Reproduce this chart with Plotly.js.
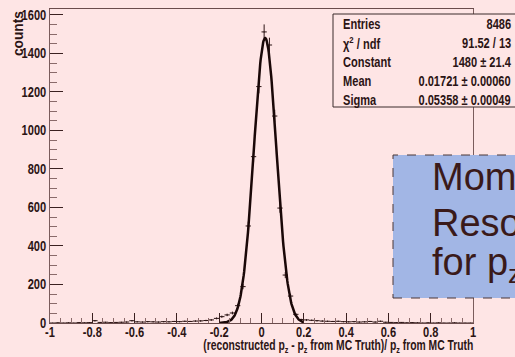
<!DOCTYPE html>
<html>
<head>
<meta charset="utf-8">
<script src="https://cdn.plot.ly/plotly-3.0.1.min.js"></script>
<style>html,body{margin:0;padding:0;background:#FEE5E5;}#chart{width:515px;height:357px;}</style>
</head>
<body>
<div id="chart"></div>
<script>
// ---- Data ----
// histogram bin centres (80 bins of 0.025 across [-1, 1])
const binCenters = [
 -0.9875,-0.9625,-0.9375,-0.9125,-0.8875,-0.8625,-0.8375,-0.8125,-0.7875,-0.7625,
 -0.7375,-0.7125,-0.6875,-0.6625,-0.6375,-0.6125,-0.5875,-0.5625,-0.5375,-0.5125,
 -0.4875,-0.4625,-0.4375,-0.4125,-0.3875,-0.3625,-0.3375,-0.3125,-0.2875,-0.2625,
 -0.2375,-0.2125,-0.1875,-0.1625,-0.1375,-0.1125,-0.0875,-0.0625,-0.0375,-0.0125,
  0.0125, 0.0375, 0.0625, 0.0875, 0.1125, 0.1375, 0.1625, 0.1875, 0.2125, 0.2375,
  0.2625, 0.2875, 0.3125, 0.3375, 0.3625, 0.3875, 0.4125, 0.4375, 0.4625, 0.4875,
  0.5125, 0.5375, 0.5625, 0.5875, 0.6125, 0.6375, 0.6625, 0.6875, 0.7125, 0.7375,
  0.7625, 0.7875, 0.8125, 0.8375, 0.8625, 0.8875, 0.9125, 0.9375, 0.9625, 0.9875];
const binCounts = [
  0, 1, 0, 1, 0, 2, 1, 2, 12, 3,
  4, 2, 3, 4, 5, 12, 6, 5, 7, 6,
  5, 7, 6, 8, 7, 9, 8, 10, 11, 13,
  16, 24, 33, 42, 52, 90, 189, 504, 864, 1228,
  1512, 1444, 1075, 597, 249, 140, 45, 18, 16, 14,
  12, 10, 9, 8, 9, 7, 6, 7, 5, 6,
  8, 5, 9, 4, 3, 2, 3, 1, 2, 1,
  0, 1, 0, 1, 0, 0, 1, 0, 0, 0];
const binHalfWidth = 0.0125;

// Gaussian fit parameters shown in the stats box
const fitConstant = 1480;
const fitMean = 0.01721;
const fitSigma = 0.05358;
const fitRange = [-0.2, 0.2];

// stats box text
const statsLabels = ["Entries", "\u03C7<sup>2</sup> / ndf", "Constant", "Mean", "Sigma"];
const statsValues = ["8486", "91.52 / 13", "1480 \u00B1 21.4", "0.01721 \u00B1 0.00060", "0.05358 \u00B1 0.00049"];

// axis ticks
const xTickVals = [-1, -0.8, -0.6, -0.4, -0.2, 0, 0.2, 0.4, 0.6, 0.8, 1];
const xTickText = ["-1", "-0.8", "-0.6", "-0.4", "-0.2", "0", "0.2", "0.4", "0.6", "0.8", "1"];
const yTickVals = [0, 200, 400, 600, 800, 1000, 1200, 1400, 1600];
const yTickText = ["0", "200", "400", "600", "800", "1000", "1200", "1400", "1600"];

// ---- Build ----
const errY = binCounts.map(v => Math.sqrt(v));
const fitX = [], fitY = [];
for (let i = 0; i <= 200; i++) {
  const x = fitRange[0] + (fitRange[1] - fitRange[0]) * i / 200;
  fitX.push(x);
  fitY.push(fitConstant * Math.exp(-0.5 * Math.pow((x - fitMean) / fitSigma, 2)));
}

const ink = '#2b1414';
const FONT = 'Liberation Sans, Arial, sans-serif';

// plot area in pixels: x 50..473, y 9..323
const L = 50, R = 473, T = 9, B = 323;
const px = p => (p - L) / (R - L);
const py = p => (B - p) / (B - T);

const traces = [
  {
    type: 'scatter', mode: 'markers', x: binCenters, y: binCounts,
    marker: {size: 1, color: ink},
    error_x: {type: 'constant', value: binHalfWidth, width: 0, thickness: 1, color: ink},
    error_y: {type: 'data', array: errY, visible: true, width: 0, thickness: 1, color: ink},
    hoverinfo: 'skip', cliponaxis: true
  },
  {
    type: 'scatter', mode: 'lines', x: fitX, y: fitY,
    line: {color: '#1a0808', width: 2.5}, hoverinfo: 'skip'
  }
];

const boldFont = {family: FONT, size: 14, color: ink, weight: 'bold'};
const annotations = [];
const rows = [24, 42.5, 61.5, 80.5, 99.5];
statsLabels.forEach((t, i) => {
  annotations.push({xref: 'paper', yref: 'paper', x: px(341), y: py(rows[i]), xanchor: 'left', align: 'left', yanchor: 'middle',
    text: t, showarrow: false, font: boldFont});
  annotations.push({xref: 'paper', yref: 'paper', x: px(512.5), y: py(rows[i]), xanchor: 'right', align: 'right', yanchor: 'middle',
    text: statsValues[i], showarrow: false, font: boldFont});
});
annotations.push({xref: 'paper', yref: 'paper', x: px(17), y: py(33.5), xanchor: 'center', yanchor: 'middle',
  text: 'counts', textangle: -90, showarrow: false, font: boldFont});
annotations.push({xref: 'paper', yref: 'paper', x: px(475), y: py(346), xanchor: 'right', align: 'right', yanchor: 'middle',
  text: '(reconstructed p<sub>z</sub> - p<sub>z</sub> from MC Truth)/ p<sub>z</sub> from MC Truth', showarrow: false,
  font: boldFont});
const blueLines = ['Momentum', 'Resolution', 'for p<sub>z</sub>'];
const blueY = [176.5, 222.5, 264.5];
blueLines.forEach((t, i) => {
  annotations.push({xref: 'paper', yref: 'paper', x: px(430), y: py(blueY[i]), xanchor: 'left', align: 'left', yanchor: 'middle',
    text: t, showarrow: false, font: {family: 'Liberation Sans, Arial, sans-serif', size: 38, color: '#3a1a1a'}});
});

const shapes = [
  {type: 'rect', xref: 'paper', yref: 'paper', x0: px(333), x1: px(540), y0: py(107), y1: py(14),
   fillcolor: '#FEE5E5', line: {color: '#3a2a2a', width: 1}, layer: 'above'},
  {type: 'rect', xref: 'paper', yref: 'paper', x0: px(393), x1: px(540), y0: py(298), y1: py(155),
   fillcolor: '#A2B6E5', line: {color: '#4a3636', width: 1, dash: 'dash'}, layer: 'above'}
];

const layout = {
  width: 515, height: 357,
  margin: {l: L, r: 515 - R, t: T, b: 357 - B, pad: 0},
  paper_bgcolor: '#FEE5E5', plot_bgcolor: '#FEE5E5',
  showlegend: false,
  xaxis: {
    range: [-1, 1], tickvals: xTickVals, ticktext: xTickText,
    ticks: 'inside', ticklen: 10, tickwidth: 1, tickcolor: '#3a2020',
    minor: {dtick: 0.05, tick0: -1, ticks: 'inside', ticklen: 5, tickcolor: '#8a6a6a', tickwidth: 1, showgrid: false},
    showline: true, linecolor: '#6a4c4c', linewidth: 1, mirror: true,
    showgrid: false, zeroline: false,
    tickfont: boldFont
  },
  yaxis: {
    range: [0, 1631], tickvals: yTickVals, ticktext: yTickText,
    ticks: 'inside', ticklen: 13, tickwidth: 1, tickcolor: '#3a2020',
    minor: {dtick: 50, tick0: 0, ticks: 'inside', ticklen: 7, tickcolor: '#8a6a6a', tickwidth: 1, showgrid: false},
    showline: true, linecolor: '#7a5c5c', linewidth: 1, mirror: true,
    showgrid: false, zeroline: false,
    tickfont: boldFont
  },
  annotations: annotations,
  shapes: shapes
};

// condense the bold labels horizontally (the reference uses a narrow bold face)
function condense(gd) {
  const sel = gd.querySelectorAll('.xtick text, .ytick text, .annotation-text');
  sel.forEach(t => {
    if (parseFloat(t.style.fontSize || '0') > 20) return; // leave the big slide text alone
    const w = t.getComputedTextLength();
    if (!w) return;
    let target = w * 0.79;
    if (t.textContent.indexOf('reconstructed') >= 0) target = 270;
    if (t.textContent === 'counts') target = 45;
    t.setAttribute('textLength', target.toFixed(1));
    t.setAttribute('lengthAdjust', 'spacingAndGlyphs');
  });
  // pull x tick labels up a little, closer to the axis as in the reference
  gd.querySelectorAll('.xtick text').forEach(t => {
    const y = parseFloat(t.getAttribute('y'));
    t.setAttribute('y', (y - 4).toFixed(1));
  });
}

Plotly.newPlot('chart', traces, layout, {staticPlot: true, displayModeBar: false}).then(gd => condense(gd));
</script>
</body>
</html>
